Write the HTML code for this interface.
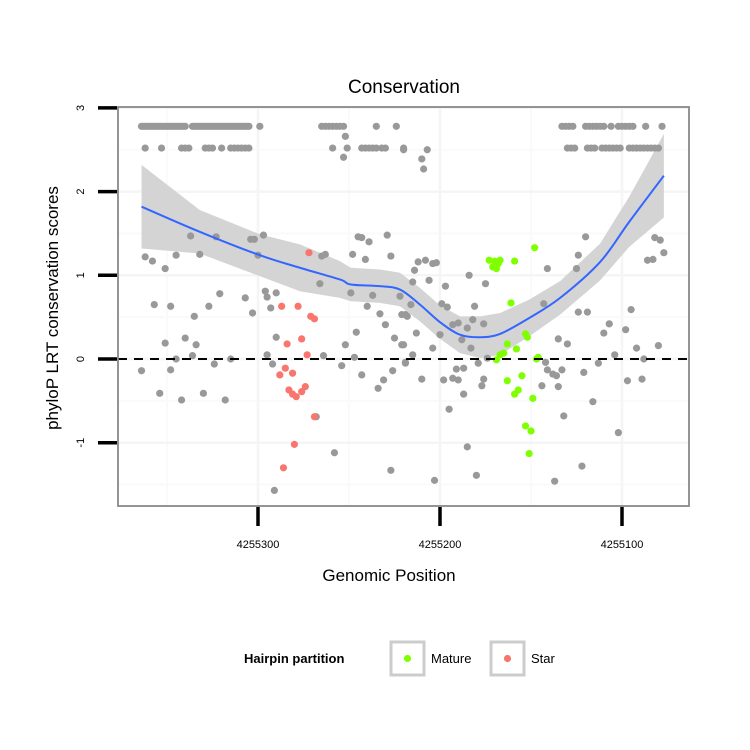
<!DOCTYPE html>
<html><head><meta charset="utf-8"><style>
html,body{margin:0;padding:0;background:#fff;}
svg{display:block;font-family:"Liberation Sans",sans-serif;}
</style></head><body>
<svg id="chart" width="750" height="750" viewBox="0 0 750 750">
<rect x="0" y="0" width="750" height="750" fill="#fff"/>
<g id="grid"></g>
<g id="band"></g>
<g id="pts"></g>
<line x1="118" x2="689" y1="359" y2="359" stroke="#000" stroke-width="2" stroke-dasharray="9,7" id="zeroline"/>
<g id="fit"></g>
<rect x="118" y="107" width="571" height="399" fill="none" stroke="#888" stroke-width="1.8"/>
<g id="axes"></g>
<text x="404" y="93" text-anchor="middle" font-size="19">Conservation</text>
<text x="389" y="581" text-anchor="middle" font-size="17">Genomic Position</text>
<text transform="translate(58,308) rotate(-90)" text-anchor="middle" font-size="17">phyloP LRT conservation scores</text>
<g>
<text x="244" y="663" font-size="13" font-weight="bold">Hairpin partition</text>
<g>
<rect x="391" y="642" width="33" height="33" fill="#fff" stroke="#ccc" stroke-width="3"/>
<circle cx="407.5" cy="658.5" r="3.6" fill="#7fff00"/>
<text x="431" y="663" font-size="13">Mature</text>
</g>
<g>
<rect x="491" y="642" width="33" height="33" fill="#fff" stroke="#ccc" stroke-width="3"/>
<circle cx="507.5" cy="658.5" r="3.6" fill="#f8766d"/>
<text x="531" y="663" font-size="13">Star</text>
</g>
</g>
</svg>
<script>
const xTicks = [4255300, 4255200, 4255100];
const xTickLabels = ["4255300", "4255200", "4255100"];
const yTicks = [-1, 0, 1, 2, 3];
const yTickLabels = ["-1", "0", "1", "2", "3"];

const grayPos = [
4255364,4255363,4255362,4255361,4255360,4255359,4255358,4255357,4255356,4255355,4255354,4255353,4255352,4255351,4255350,4255349,4255348,4255347,4255346,4255345,4255344,4255343,4255342,4255341,4255340,
4255336,4255335,4255334,4255333,4255332,4255331,4255330,4255329,4255328,4255327,4255326,4255325,4255324,4255323,4255322,4255321,4255320,4255319,4255318,4255317,4255316,4255315,4255314,4255313,4255312,4255311,4255310,4255309,4255308,4255307,4255306,4255305,
4255299,4255265,4255263,4255261,4255259,4255257,4255255,4255253,4255235,4255224,
4255133,4255131,4255129,4255127,4255120,4255118,4255116,4255114,4255112,4255110,4255106,4255102,4255100,4255098,4255096,4255094,4255087,4255078,
4255362,4255353,4255342,4255340,4255338,4255329,4255327,4255325,4255320,4255315,4255313,4255311,4255309,4255307,4255305,4255259,4255251,4255243,4255241,4255239,4255237,4255235,4255232,4255230,4255220,
4255130,4255128,4255126,4255119,4255117,4255115,4255111,4255109,4255107,4255105,4255103,4255101,4255096,4255094,4255092,4255090,4255088,4255086,4255084,4255082,4255080,
4255252,4255253,4255337,4255323,4255304,4255302,4255297,4255362,4255358,4255345,4255332,4255351,4255300,4255265,4255263,4255248,4255245,4255243,4255239,4255229,4255241,4255227,
4255266,4255249,4255237,4255222,4255240,4255233,4255221,4255219,4255230,4255225,4255221,4255246,4255252,4255247,4255254,4255243,4255226,4255231,4255234,4255219,4255227,4255258,4255268,4255291,
4255357,4255348,4255335,4255327,4255321,4255307,4255303,4255296,4255295,4255290,4255293,4255351,4255340,4255334,4255336,4255345,4255364,4255348,4255324,4255315,4255290,4255295,4255292,4255264,4255354,4255342,4255330,4255318,
4255220,4255207,4255210,4255209,4255120,4255082,4255079,4255077,4255086,4255083,4255124,4255125,4255141,4255212,4255208,4255204,4255202,4255214,4255215,4255206,4255197,4255184,4255175,
4255216,4255199,4255196,4255181,4255143,4255124,4255119,4255095,4255218,4255190,4255182,4255185,4255176,4255193,4255200,4255188,4255213,4255220,4255204,4255183,4255215,4255219,4255179,4255174,
4255135,4255130,4255107,4255110,4255098,4255092,4255080,4255104,4255088,4255113,4255142,4255141,4255138,4255136,4255133,4255121,4255144,4255135,4255097,4255089,4255191,4255187,4255198,4255193,4255190,
4255210,4255176,4255177,4255187,4255195,4255116,4255132,4255102,4255185,4255122,4255203,4255180,4255137
];
const grayScore = [
2.78,2.78,2.78,2.78,2.78,2.78,2.78,2.78,2.78,2.78,2.78,2.78,2.78,2.78,2.78,2.78,2.78,2.78,2.78,2.78,2.78,2.78,2.78,2.78,2.78,
2.78,2.78,2.78,2.78,2.78,2.78,2.78,2.78,2.78,2.78,2.78,2.78,2.78,2.78,2.78,2.78,2.78,2.78,2.78,2.78,2.78,2.78,2.78,2.78,2.78,2.78,2.78,2.78,2.78,2.78,2.78,2.78,
2.78,2.78,2.78,2.78,2.78,2.78,2.78,2.78,2.78,2.78,
2.78,2.78,2.78,2.78,2.78,2.78,2.78,2.78,2.78,2.78,2.78,2.78,2.78,2.78,2.78,2.78,2.78,2.78,
2.52,2.52,2.52,2.52,2.52,2.52,2.52,2.52,2.52,2.52,2.52,2.52,2.52,2.52,2.52,2.52,2.52,2.52,2.52,2.52,2.52,2.52,2.52,2.52,2.52,
2.52,2.52,2.52,2.52,2.52,2.52,2.52,2.52,2.52,2.52,2.52,2.52,2.52,2.52,2.52,2.52,2.52,2.52,2.52,2.52,2.52,
2.66,2.41,1.47,1.46,1.43,1.43,1.48,1.22,1.17,1.24,1.25,1.08,1.24,1.23,1.25,1.25,1.46,1.45,1.40,1.48,1.19,1.23,
0.90,0.79,0.76,0.75,0.63,0.54,0.53,0.53,0.41,0.25,0.17,0.32,0.17,0.02,-0.08,-0.19,-0.14,-0.25,-0.35,-0.04,-1.33,-1.12,-0.69,-1.57,
0.65,0.63,0.51,0.63,0.78,0.73,0.55,0.81,0.74,0.79,0.61,0.19,0.25,0.17,0.04,0.00,-0.14,-0.13,-0.06,0.00,0.26,0.05,-0.06,0.04,-0.41,-0.49,-0.41,-0.49,
2.50,2.50,2.39,2.27,1.46,1.45,1.42,1.27,1.18,1.19,1.24,1.08,1.08,1.16,1.18,1.14,1.15,1.06,0.92,0.94,0.87,1.00,0.90,
0.65,0.66,0.62,0.63,0.66,0.56,0.56,0.59,0.51,0.43,0.47,0.37,0.42,0.41,0.29,0.23,0.31,0.17,0.13,0.13,0.05,-0.05,-0.05,0.01,
0.24,0.18,0.42,0.31,0.35,0.13,0.16,0.05,0.00,-0.05,-0.04,-0.13,-0.18,-0.20,-0.13,-0.16,-0.32,-0.33,-0.26,-0.24,-0.12,-0.11,-0.25,-0.23,-0.25,
-0.24,-0.24,-0.32,-0.42,-0.60,-0.51,-0.68,-0.88,-1.05,-1.28,-1.45,-1.39,-1.46
];
const starPos = [4255272,4255287,4255278,4255271,4255269,4255284,4255276,4255273,4255288,4255285,4255281,4255283,4255281,4255279,4255276,4255274,4255269,4255280,4255286];
const starScore = [1.27,0.63,0.63,0.51,0.48,0.18,0.24,0.05,-0.19,-0.11,-0.17,-0.37,-0.42,-0.45,-0.39,-0.33,-0.69,-1.02,-1.30];
const maturePos = [4255148,4255173,4255170,4255167,4255169,4255171,4255168,4255159,4255161,4255153,4255152,4255163,4255165,4255167,4255169,4255158,4255146,4255147,4255155,4255163,4255157,4255159,4255149,4255153,4255150,4255151];
const matureScore = [1.33,1.18,1.17,1.18,1.08,1.10,1.14,1.17,0.67,0.30,0.26,0.18,0.07,0.05,-0.01,0.12,0.02,0.00,-0.20,-0.26,-0.37,-0.42,-0.47,-0.80,-0.86,-1.13];

const fitPos = [4255364,4255332,4255299,4255277,4255255,4255249,4255233,4255222,4255211,4255200,4255189,4255178,4255167,4255151,4255134,4255112,4255096,4255077];
const fitVal = [1.82,1.52,1.24,1.09,0.95,0.89,0.87,0.83,0.65,0.44,0.29,0.26,0.30,0.49,0.73,1.16,1.64,2.19];
const fitSE = [0.50,0.26,0.25,0.28,0.22,0.20,0.20,0.20,0.20,0.20,0.22,0.25,0.25,0.22,0.20,0.22,0.30,0.50];

const NS = "http://www.w3.org/2000/svg";
function X(p){ return 258 + (4255300 - p) * 1.82; }
function Y(v){ return 359 - v * 83.7; }
function mk(tag, attrs, parent){
  const e = document.createElementNS(NS, tag);
  for (const k in attrs) e.setAttribute(k, attrs[k]);
  parent.appendChild(e);
  return e;
}
const grid = document.getElementById('grid');
[-1.5,-0.5,0.5,1.5,2.5].forEach(v=>{
  const l = mk('line',{x1:118,x2:689,y1:Y(v),y2:Y(v),stroke:'#fafafa','stroke-width':2},grid);
  
  
});
[4255350,4255250,4255150].forEach(p=>{
  const l = mk('line',{x1:X(p),x2:X(p),y1:107,y2:506,stroke:'#fafafa','stroke-width':2},grid);
  
  
});
yTicks.forEach(v=>{
  const l = mk('line',{x1:118,x2:689,y1:Y(v),y2:Y(v),stroke:'#f5f5f5','stroke-width':2.5},grid);
  
  
});
xTicks.forEach(p=>{
  const l = mk('line',{x1:X(p),x2:X(p),y1:107,y2:506,stroke:'#f5f5f5','stroke-width':2.5},grid);
  
  
});

let d = '';
fitPos.forEach((p,i)=>{ d += (i?'L':'M') + X(p) + ',' + Y(fitVal[i]+fitSE[i]); });
for (let i = fitPos.length-1; i>=0; i--) d += 'L' + X(fitPos[i]) + ',' + Y(fitVal[i]-fitSE[i]);
const band = mk('path',{d:d+'Z',fill:'#d4d4d4'},document.getElementById('band'));



const pts = document.getElementById('pts');
grayPos.forEach((p,i)=>{
  const c = mk('circle',{cx:X(p),cy:Y(grayScore[i]),r:3.6,fill:'#999'},pts);
  
  
});
starPos.forEach((p,i)=>{
  const c = mk('circle',{cx:X(p),cy:Y(starScore[i]),r:3.6,fill:'#f8766d'},pts);
  
  
});
maturePos.forEach((p,i)=>{
  const c = mk('circle',{cx:X(p),cy:Y(matureScore[i]),r:3.6,fill:'#7fff00'},pts);
  
  
});

const P = fitPos.map((p,i)=>[X(p),Y(fitVal[i])]);
let ld = 'M'+P[0][0]+','+P[0][1];
for (let i=0;i<P.length-1;i++){
  const p0=P[Math.max(0,i-1)],p1=P[i],p2=P[i+1],p3=P[Math.min(P.length-1,i+2)];
  ld += 'C'+(p1[0]+(p2[0]-p0[0])/6)+','+(p1[1]+(p2[1]-p0[1])/6)+' '+(p2[0]-(p3[0]-p1[0])/6)+','+(p2[1]-(p3[1]-p1[1])/6)+' '+p2[0]+','+p2[1];
}
const line = mk('path',{d:ld,fill:'none',stroke:'#3366ff','stroke-width':2},document.getElementById('fit'));



const axes = document.getElementById('axes');
yTicks.forEach((v,i)=>{
  const t = mk('line',{x1:98,x2:117,y1:Y(v),y2:Y(v),stroke:'#000','stroke-width':3.5},axes);
  
  
  const tx = mk('text',{transform:'translate(84,'+Y(v)+') rotate(-90)','text-anchor':'middle','font-size':11},axes);
  tx.textContent = yTickLabels[i];
  
  
});
xTicks.forEach((p,i)=>{
  const t = mk('line',{x1:X(p),x2:X(p),y1:507,y2:526,stroke:'#000','stroke-width':3.5},axes);
  
  
  const tx = mk('text',{x:X(p),y:548,'text-anchor':'middle','font-size':11},axes);
  tx.textContent = xTickLabels[i];
  
  
});
</script>
</body></html>
